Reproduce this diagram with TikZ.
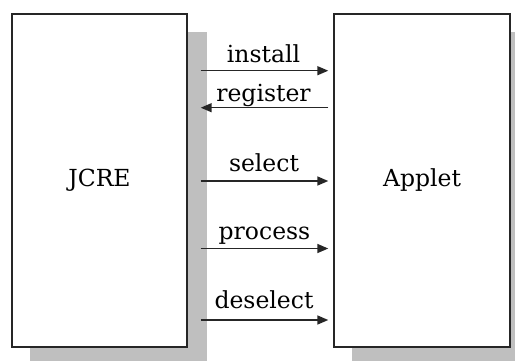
\documentclass[tikz,border=0pt]{standalone}
\usepackage{fontspec}
\setmainfont{DejaVu Serif}
\usetikzlibrary{arrows.meta,backgrounds}
\begin{document}
\begin{tikzpicture}[x=1pt,y=-1pt,
  box/.style={draw=black!85, line width=1.4pt, fill=white, rectangle,
    minimum height=333pt, inner sep=0pt, text height=17pt, text depth=4.6pt,
    font=\fontsize{23.5}{28}\selectfont},
  arr/.style={draw=black!85, line width=1.5pt, -{Triangle[length=11pt,width=9pt]}},
  lab/.style={anchor=base, inner sep=0pt, font=\fontsize{23.5}{28}\selectfont},
  shadowfill/.style={fill=black!25}]
\useasboundingbox (0,0) rectangle (515,360);
\clip (0,0) rectangle (515,360);
\node[box, minimum width=175pt] (jcre) at (99.5,180.5) {JCRE};
\node[box, minimum width=176pt] (applet) at (422,180.5) {Applet};
\begin{scope}[on background layer]
  \fill[shadowfill] ([shift={(19,19)}]jcre.north west) rectangle ([shift={(19,19)}]jcre.south east);
  \fill[shadowfill] ([shift={(19,19)}]applet.north west) rectangle ([shift={(19,19)}]applet.south east);
\end{scope}
\draw[arr, shorten <=13pt, shorten >=5pt] (jcre.east |- 0,70.7) -- (applet.west |- 0,70.7);
\draw[arr, shorten >=13pt, shorten <=5pt] (applet.west |- 0,107.7) -- (jcre.east |- 0,107.7);
\draw[arr, shorten <=13pt, shorten >=5pt] (jcre.east |- 0,181) -- (applet.west |- 0,181);
\draw[arr, shorten <=13pt, shorten >=5pt] (jcre.east |- 0,248.5) -- (applet.west |- 0,248.5);
\draw[arr, shorten <=13pt, shorten >=5pt] (jcre.east |- 0,320) -- (applet.west |- 0,320);
\node[lab] (linstall) at (263.5,62.7) {install};
\node[lab] (lregister) at (263.5,101) {register};
\node[lab] (lselect) at (264,171) {select};
\node[lab] (lprocess) at (264.5,239) {process};
\node[lab] (ldeselect) at (264,308.3) {deselect};
\end{tikzpicture}
\end{document}
